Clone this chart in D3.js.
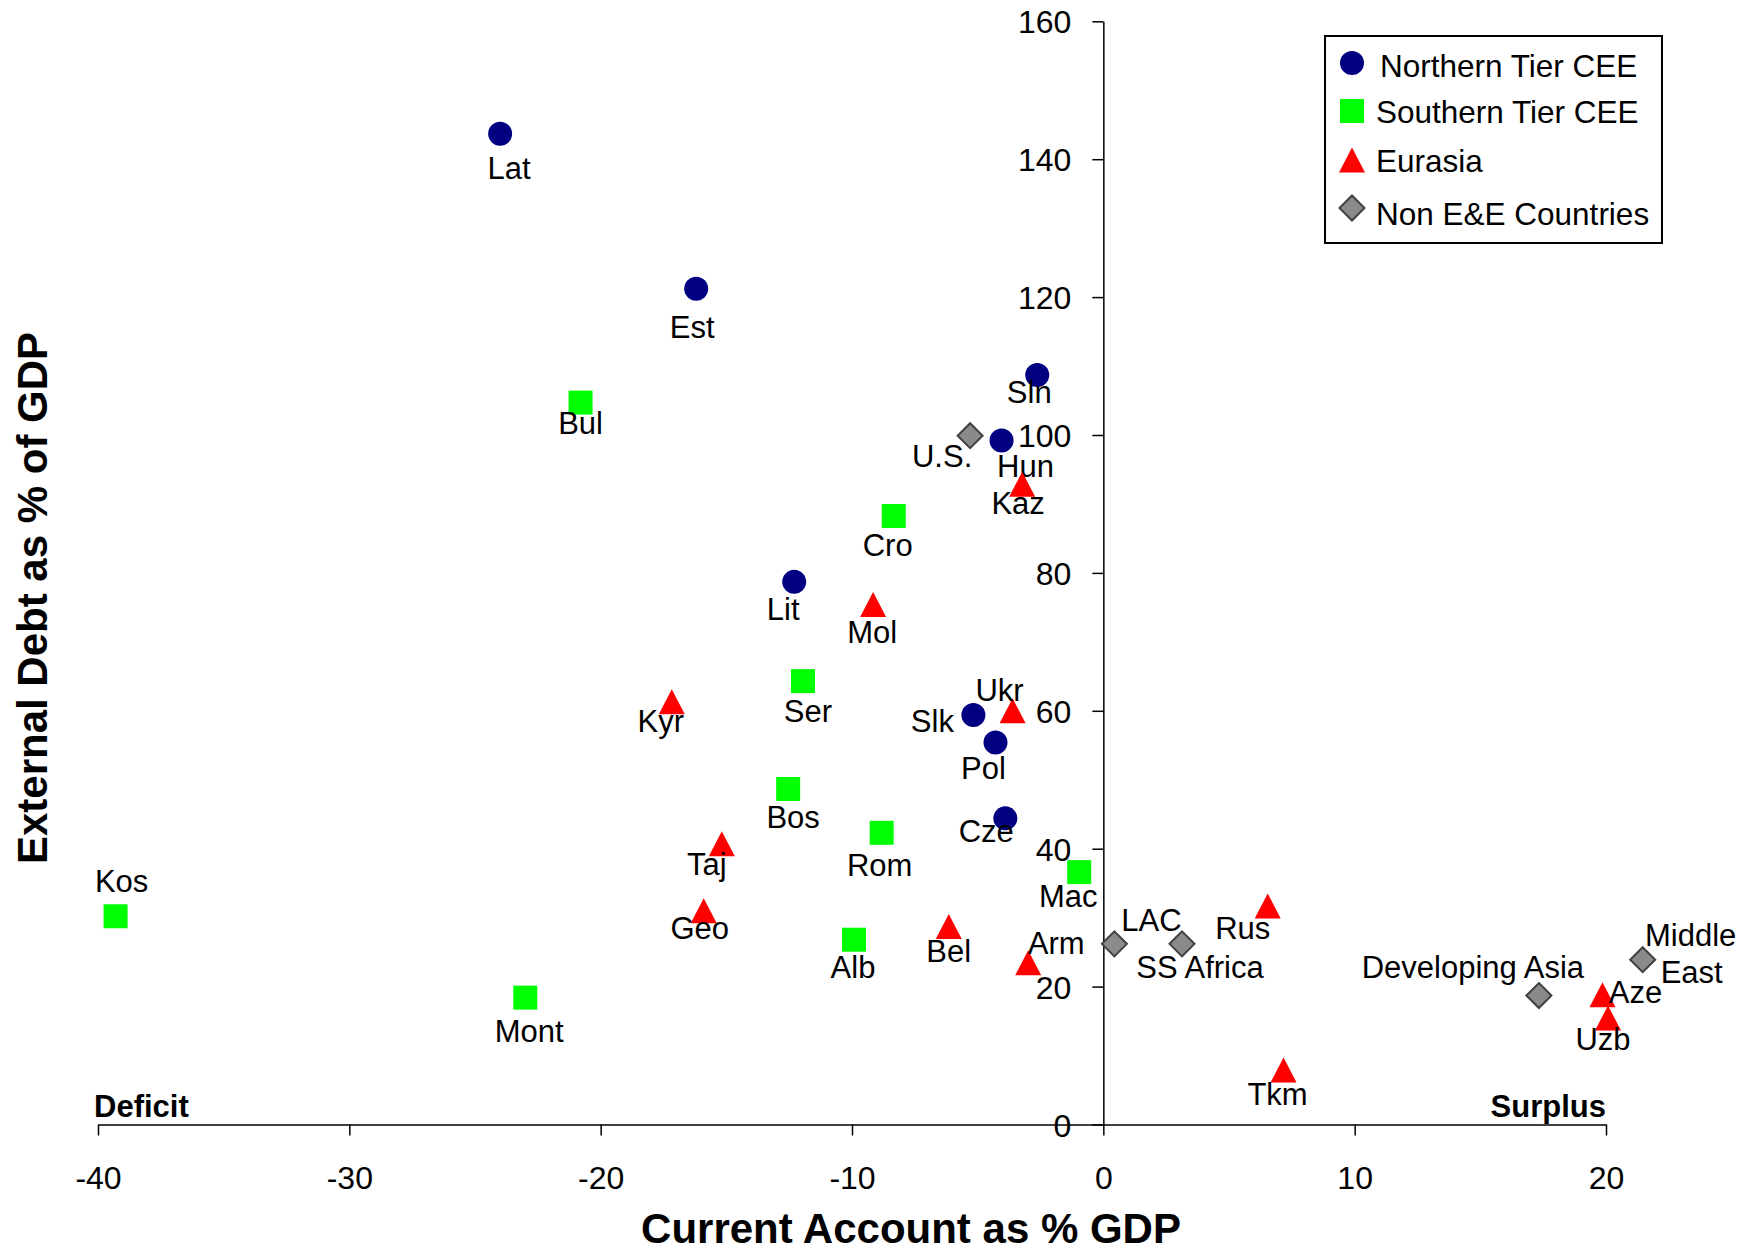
<!DOCTYPE html>
<html>
<head>
<meta charset="utf-8">
<script src="https://cdn.jsdelivr.net/npm/d3@7"></script>
<style>
  body { margin: 0; background: #fff; }
  text { font-family: "Liberation Sans", Arial, sans-serif; fill: #000; }
</style>
</head>
<body>
<div id="chart"></div>
<script>
// Series data: current account (% GDP) vs external debt (% GDP)
var northernTier = [
  { name: "Lat", ca: -24.0, debt: 143.7 },
  { name: "Est", ca: -16.2, debt: 121.2 },
  { name: "Sln", ca: -2.63, debt: 108.7 },
  { name: "Hun", ca: -4.05, debt: 99.2 },
  { name: "Lit", ca: -12.3, debt: 78.7 },
  { name: "Slk", ca: -5.17, debt: 59.4 },
  { name: "Pol", ca: -4.29, debt: 55.4 },
  { name: "Cze", ca: -3.9, debt: 44.4 }
];

var southernTier = [
  { name: "Bul", ca: -20.8, debt: 104.7 },
  { name: "Cro", ca: -8.34, debt: 88.25 },
  { name: "Ser", ca: -11.95, debt: 64.3 },
  { name: "Bos", ca: -12.54, debt: 48.66 },
  { name: "Rom", ca: -8.82, debt: 42.3 },
  { name: "Mac", ca: -0.96, debt: 36.6 },
  { name: "Alb", ca: -9.92, debt: 26.8 },
  { name: "Kos", ca: -39.3, debt: 30.2 },
  { name: "Mont", ca: -23.0, debt: 18.4 }
];

var eurasia = [
  { name: "Kaz", ca: -3.23, debt: 92.85 },
  { name: "Mol", ca: -9.16, debt: 75.4 },
  { name: "Kyr", ca: -17.17, debt: 61.3 },
  { name: "Ukr", ca: -3.61, debt: 60.0 },
  { name: "Taj", ca: -15.18, debt: 40.7 },
  { name: "Geo", ca: -15.9, debt: 31.0 },
  { name: "Bel", ca: -6.15, debt: 28.7 },
  { name: "Arm", ca: -2.99, debt: 23.45 },
  { name: "Rus", ca: 6.54, debt: 31.7 },
  { name: "Tkm", ca: 7.17, debt: 7.9 },
  { name: "Aze", ca: 19.86, debt: 18.8 },
  { name: "Uzb", ca: 20.08, debt: 15.45 }
];

var nonEE = [
  { name: "U.S.", ca: -5.3, debt: 99.9 },
  { name: "LAC", ca: 0.44, debt: 26.2 },
  { name: "SS Africa", ca: 3.13, debt: 26.2 },
  { name: "Developing Asia", ca: 17.33, debt: 18.7 },
  { name: "Middle East", ca: 21.46, debt: 23.9 }
];

var xTicks = [-40, -30, -20, -10, 0, 10, 20];
var yTicks = [0, 20, 40, 60, 80, 100, 120, 140, 160];

// label offsets from marker centre (dx, dy to baseline), one pair per line
var labelLayout = {
  "Lat": [[9, 45]], "Est": [[-4, 49]], "Sln": [[-8, 28]], "Hun": [[24, 36]],
  "Lit": [[-11, 38]], "Slk": [[-41, 17]], "Pol": [[-12, 36]], "Cze": [[-19, 24]],
  "Bul": [[0, 31]], "Cro": [[-6, 40]], "Ser": [[5, 41]], "Bos": [[5, 39]],
  "Rom": [[-2, 43]], "Mac": [[-11, 35]], "Alb": [[-1, 38]], "Kos": [[6, -24]],
  "Mont": [[4, 44]],
  "Kaz": [[-4, 30]], "Mol": [[-1, 38]], "Kyr": [[-11, 30]], "Ukr": [[-13, -10]],
  "Taj": [[-15, 31]], "Geo": [[-4, 28]], "Bel": [[0, 35]], "Arm": [[28, -9]],
  "Rus": [[-25, 33]], "Tkm": [[-6, 35]], "Aze": [[33, 8]], "Uzb": [[-5, 32]],
  "U.S.": [[-28, 31]], "LAC": [[37, -13]], "SS Africa": [[18, 34]],
  "Developing Asia": [[-66, -18]], "Middle East": [[48, -14], [49, 23]]
};

var svgWidth = 1756;
var svgHeight = 1252;

var svg = d3.select("#chart")
  .append("svg")
  .attr("width", svgWidth)
  .attr("height", svgHeight);

var x = d3.scaleLinear().domain([-40, 20]).range([98, 1606]);
var y = d3.scaleLinear().domain([0, 160]).range([1124.5, 21.3]);

// marker shapes
var circlePath = d3.symbol().type(d3.symbolCircle).size(Math.PI * 12 * 12)();
var squarePath = "M-12,-12H12V12H-12Z";
var trianglePath = "M0,-12.5L13,12.5L-13,12.5Z";
var diamondPath = "M0,-12.5L12.5,0L0,12.5L-12.5,0Z";

var series = [
  { label: "Northern Tier CEE", data: northernTier, path: circlePath, fill: "#000080", stroke: "none" },
  { label: "Southern Tier CEE", data: southernTier, path: squarePath, fill: "#00ff00", stroke: "none" },
  { label: "Eurasia", data: eurasia, path: trianglePath, fill: "#ff0000", stroke: "none" },
  { label: "Non E&E Countries", data: nonEE, path: diamondPath, fill: "#8a8a8a", stroke: "#404040" }
];

// axes (plain hyphen for negatives, like the original)
var xAxis = d3.axisBottom(x)
  .tickValues(xTicks)
  .tickFormat(d => String(d))
  .tickSize(11)
  .tickSizeOuter(0)
  .tickPadding(31);

var yAxis = d3.axisLeft(y)
  .tickValues(yTicks)
  .tickFormat(d => String(d))
  .tickSize(11)
  .tickSizeOuter(0)
  .tickPadding(21);

var gx = svg.append("g")
  .attr("transform", `translate(0, ${y(0)})`)
  .call(xAxis);

var gy = svg.append("g")
  .attr("transform", `translate(${x(0)}, 0)`)
  .call(yAxis);

[gx, gy].forEach(function (g) {
  g.selectAll("path, line").attr("stroke", "#000").attr("stroke-width", 1.5);
  g.selectAll("text")
    .style("font-family", "'Liberation Sans', Arial, sans-serif")
    .style("font-size", "32px")
    .attr("fill", "#000");
});
gy.selectAll("text").attr("dy", "0.36em");

// Deficit / Surplus
svg.append("text")
  .attr("x", x(-40) - 4)
  .attr("y", y(0) - 8)
  .style("font-size", "31px")
  .style("font-weight", "bold")
  .text("Deficit");

svg.append("text")
  .attr("x", x(20))
  .attr("y", y(0) - 8)
  .attr("text-anchor", "end")
  .style("font-size", "31px")
  .style("font-weight", "bold")
  .text("Surplus");

// markers and labels
series.forEach(function (s) {
  var g = svg.append("g");
  g.selectAll("path")
    .data(s.data)
    .enter()
    .append("path")
    .attr("d", s.path)
    .attr("transform", d => `translate(${x(d.ca)}, ${y(d.debt)})`)
    .attr("fill", s.fill)
    .attr("stroke", s.stroke)
    .attr("stroke-width", s.stroke === "none" ? 0 : 2);

  s.data.forEach(function (d) {
    var offs = labelLayout[d.name] || [[0, 34]];
    var lines = offs.length > 1 ? d.name.split(" ") : [d.name];
    lines.forEach(function (line, i) {
      g.append("text")
        .attr("x", x(d.ca) + offs[i][0])
        .attr("y", y(d.debt) + offs[i][1])
        .attr("text-anchor", "middle")
        .style("font-size", "31px")
        .text(line);
    });
  });
});

// axis titles
svg.append("text")
  .attr("x", 911)
  .attr("y", 1243)
  .attr("text-anchor", "middle")
  .style("font-size", "42px")
  .style("font-weight", "bold")
  .text("Current Account as % GDP");

svg.append("text")
  .attr("transform", "translate(47, 598) rotate(-90)")
  .attr("text-anchor", "middle")
  .style("font-size", "42px")
  .style("font-weight", "bold")
  .text("External Debt as % of GDP");

// legend
var legend = svg.append("g");
legend.append("rect")
  .attr("x", 1325)
  .attr("y", 36)
  .attr("width", 337)
  .attr("height", 207)
  .attr("fill", "#fff")
  .attr("stroke", "#000")
  .attr("stroke-width", 2);

var legendRowY = [63, 111, 160, 208];
var legendTextY = [77, 123, 172, 225];
series.forEach(function (s, i) {
  legend.append("path")
    .attr("d", s.path)
    .attr("transform", `translate(1352, ${legendRowY[i]})`)
    .attr("fill", s.fill)
    .attr("stroke", s.stroke)
    .attr("stroke-width", s.stroke === "none" ? 0 : 2);
  legend.append("text")
    .attr("x", i === 0 ? 1380 : 1376)
    .attr("y", legendTextY[i])
    .style("font-size", "31.5px")
    .text(s.label);
});
</script>
</body>
</html>
